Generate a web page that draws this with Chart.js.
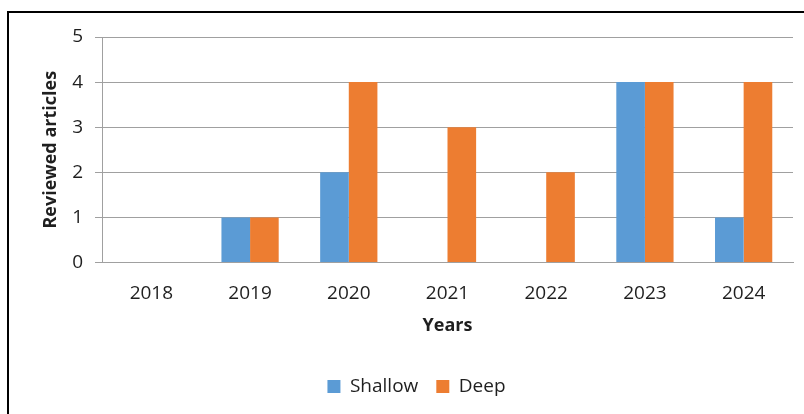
<!DOCTYPE html>
<html>
<head>
<meta charset="utf-8">
<title>Reviewed articles by year</title>
<script src="https://cdn.jsdelivr.net/npm/chart.js@4"></script>
<style>
  html, body { margin: 0; padding: 0; background: #ffffff; }
  #wrap { position: relative; width: 804px; height: 414px; overflow: hidden; }
  #frame { position: absolute; left: 7px; top: 11px; right: -10px; bottom: -10px;
           border-left: 2px solid #000; border-top: 2px solid #000; }
  #chart { position: absolute; left: 0; top: 0; }
</style>
</head>
<body>
<div id="wrap">
  <div id="frame"></div>
  <canvas id="chart" width="804" height="414"></canvas>
</div>
<script>
const years = ['2018', '2019', '2020', '2021', '2022', '2023', '2024'];
const shallow = [0, 1, 2, 0, 0, 4, 1];
const deep = [0, 1, 4, 3, 2, 4, 4];

const gridColor = '#a0a0a0';
const textColor = '#1f1f1f';
const fontFamily = '"Open Sans", "Liberation Sans", sans-serif';

new Chart(document.getElementById('chart'), {
  type: 'bar',
  data: {
    labels: years,
    datasets: [
      { label: 'Shallow', data: shallow, backgroundColor: '#5b9bd5', borderWidth: 0 },
      { label: 'Deep', data: deep, backgroundColor: '#ed7d31', borderWidth: 0 }
    ]
  },
  options: {
    responsive: false,
    animation: false,
    devicePixelRatio: 1,
    layout: { padding: { left: 40, right: 11, top: 37, bottom: 8 } },
    datasets: { bar: { categoryPercentage: 0.58, barPercentage: 1.0 } },
    plugins: {
      tooltip: { enabled: false },
      legend: {
        position: 'bottom',
        labels: {
          boxWidth: 13, boxHeight: 13, padding: 18,
          color: textColor,
          font: { family: fontFamily, size: 19 }
        }
      }
    },
    scales: {
      x: {
        grid: { display: false, drawTicks: false },
        border: { display: true, color: gridColor, width: 1 },
        ticks: { color: textColor, padding: 20, font: { family: fontFamily, size: 19 } },
        title: {
          display: true, text: 'Years', color: textColor,
          font: { family: fontFamily, size: 18, weight: 'bold' },
          padding: { top: 4, bottom: 22 }
        },
        afterFit(scale) { scale.height = 96.5; }
      },
      y: {
        min: 0, max: 5,
        ticks: { stepSize: 1, color: textColor, padding: 12, font: { family: fontFamily, size: 19 } },
        grid: { color: gridColor, lineWidth: 1, tickLength: 7, drawTicks: true },
        border: { display: true, color: gridColor, width: 1 },
        title: {
          display: true, text: 'Reviewed articles', color: textColor,
          font: { family: fontFamily, size: 18, weight: 'bold' },
          padding: { top: 0, bottom: 4 }
        },
        afterFit(scale) { scale.width = 62; }
      }
    }
  }
});
</script>
</body>
</html>
